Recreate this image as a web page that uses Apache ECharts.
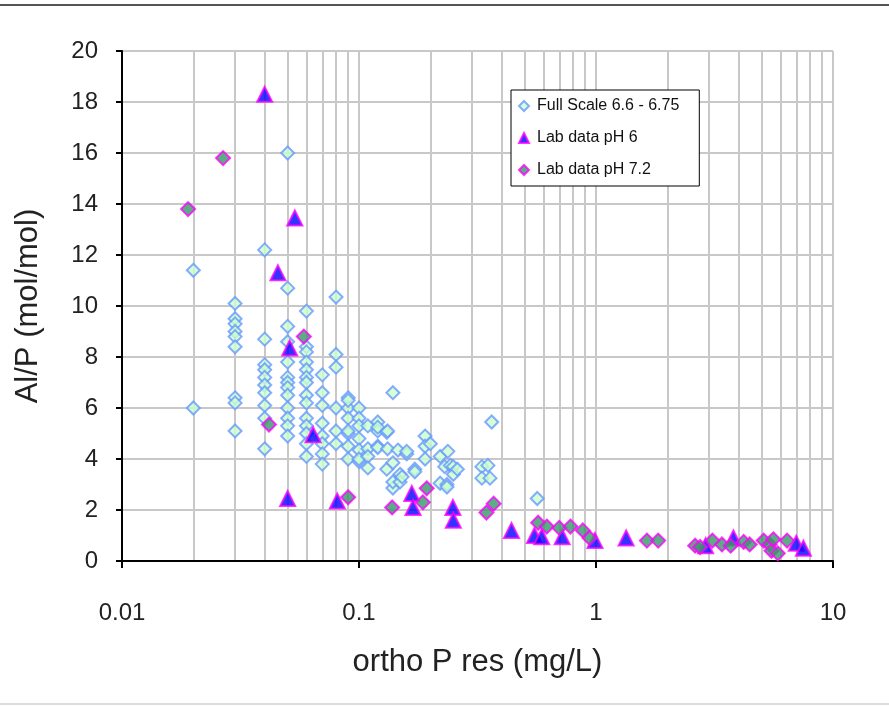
<!DOCTYPE html>
<html>
<head>
    <meta charset="UTF-8">
    <title>Al/P vs ortho P</title>
    <style>
        html, body { margin: 0; padding: 0; background: #fff; }
        #main { width: 889px; height: 707px; }
    </style>
</head>
<body>
<div id="main"></div>
<script src="https://cdn.jsdelivr.net/npm/echarts@6/dist/echarts.min.js"></script>
<script>
    // data: [ortho P res, Al/P]
    var fullScale = [
        [0.02, 11.4], [0.02, 6.0],
        [0.03, 10.1], [0.03, 9.5], [0.03, 9.3], [0.03, 9.0], [0.03, 8.8], [0.03, 8.4], [0.03, 6.4], [0.03, 6.2], [0.03, 5.1],
        [0.04, 12.2], [0.04, 8.7], [0.04, 7.7], [0.04, 7.5], [0.04, 7.2], [0.04, 6.9], [0.04, 6.6], [0.04, 6.1], [0.04, 5.6], [0.04, 4.4],
        [0.05, 16.0], [0.05, 10.7], [0.05, 9.2], [0.05, 8.6], [0.05, 7.8], [0.05, 7.2], [0.05, 7.0], [0.05, 6.8], [0.05, 6.5], [0.05, 6.0], [0.05, 5.6], [0.05, 5.3], [0.05, 4.9],
        [0.06, 9.8], [0.06, 8.4], [0.06, 8.2], [0.06, 7.8], [0.06, 7.5], [0.06, 7.2], [0.06, 7.0], [0.06, 6.5], [0.06, 6.2], [0.06, 5.6], [0.06, 5.3], [0.06, 5.0], [0.06, 4.6], [0.06, 4.1],
        [0.07, 7.3], [0.07, 6.6], [0.07, 6.1], [0.07, 5.4], [0.07, 4.9], [0.07, 4.6], [0.07, 4.2], [0.07, 3.8],
        [0.08, 10.35], [0.08, 8.1], [0.08, 7.6], [0.08, 6.0], [0.08, 5.1], [0.08, 4.6],
        [0.09, 6.4], [0.09, 6.0], [0.09, 5.6], [0.09, 5.0], [0.09, 4.5], [0.09, 4.0], [0.09, 6.3], [0.09, 5.1],
        [0.1, 6.0], [0.1, 5.6], [0.1, 5.3], [0.1, 4.8], [0.1, 4.35], [0.1, 3.9], [0.1, 4.0],
        [0.109, 5.3], [0.109, 4.4], [0.109, 4.1], [0.109, 3.65],
        [0.12, 5.45], [0.12, 5.1], [0.12, 4.5], [0.12, 5.25], [0.12, 4.45],
        [0.131, 5.05], [0.131, 3.6], [0.132, 5.1], [0.132, 4.4],
        [0.139, 6.6], [0.139, 3.85], [0.139, 2.86], [0.139, 3.1],
        [0.146, 4.35], [0.149, 3.4], [0.149, 3.1], [0.152, 3.3],
        [0.159, 4.2], [0.159, 4.3], [0.172, 3.6], [0.172, 3.5],
        [0.19, 4.9], [0.19, 4.5], [0.19, 4.0], [0.2, 4.6],
        [0.22, 4.1], [0.22, 3.05], [0.23, 3.7], [0.235, 3.0], [0.235, 2.9], [0.237, 4.3], [0.243, 3.75],
        [0.25, 3.7], [0.25, 3.4], [0.26, 3.6],
        [0.33, 3.7], [0.33, 3.25], [0.35, 3.75], [0.357, 3.25], [0.363, 5.45],
        [0.565, 2.45]
    ];
    var labPH6 = [
        [0.04, 18.3], [0.0536, 13.45], [0.0455, 11.3], [0.051, 8.35], [0.064, 4.95],
        [0.05, 2.45], [0.081, 2.35], [0.167, 2.65], [0.169, 2.1], [0.249, 2.1], [0.25, 1.6],
        [0.44, 1.2], [0.55, 1.0], [0.59, 0.95], [0.72, 0.95], [0.99, 0.8], [1.34, 0.9],
        [2.9, 0.6], [3.8, 0.9], [7.0, 0.7], [7.5, 0.5]
    ];
    var labPH72 = [
        [0.019, 13.8], [0.0267, 15.8], [0.0585, 8.8], [0.0417, 5.35], [0.09, 2.5],
        [0.138, 2.1], [0.193, 2.85], [0.186, 2.3], [0.345, 1.9], [0.37, 2.25],
        [0.57, 1.5], [0.62, 1.35], [0.70, 1.3], [0.78, 1.35], [0.88, 1.2], [0.94, 0.9],
        [1.64, 0.8], [1.83, 0.8], [2.62, 0.6], [2.75, 0.55], [3.1, 0.8], [3.4, 0.65],
        [3.7, 0.6], [4.2, 0.75], [4.45, 0.65], [5.1, 0.8], [5.4, 0.65], [5.5, 0.4],
        [5.85, 0.3], [5.6, 0.85], [6.4, 0.8]
    ];
    var seriesNames = ['Full Scale 6.6 - 6.75', 'Lab data pH 6', 'Lab data pH 7.2'];
    // minor vertical grid lines (2..9 in each decade)
    var minorGrid = [
        0.02, 0.03, 0.04, 0.05, 0.06, 0.07, 0.08, 0.09,
        0.2, 0.3, 0.4, 0.5, 0.6, 0.7, 0.8, 0.9,
        2, 3, 4, 5, 6, 7, 8, 9
    ];

    var font = 'Liberation Sans, Arial, sans-serif';
    var gridColor = '#c8c8c8';

    var myChart = echarts.init(document.getElementById('main'));
    var option = {
        animation: false,
        backgroundColor: '#fff',
        grid: { left: 122, right: 56, top: 51, bottom: 146 },
        graphic: [
            { type: 'line', shape: { x1: 0, y1: 5, x2: 889, y2: 5 }, style: { stroke: '#555', lineWidth: 2 } },
            { type: 'line', shape: { x1: 0, y1: 704, x2: 889, y2: 704 }, style: { stroke: '#bbb', lineWidth: 1 } }
        ],
        legend: {
            orient: 'vertical',
            left: 511,
            top: 90,
            padding: [8, 20, 8, 7],
            itemGap: 16,
            itemWidth: 10,
            itemHeight: 10,
            backgroundColor: '#fff',
            borderColor: '#000',
            borderWidth: 1,
            z: 10,
            textStyle: { fontSize: 16, color: '#111', fontFamily: font, padding: [0, 0, 0, 3] },
            data: [
                { name: seriesNames[0], icon: 'diamond' },
                { name: seriesNames[1], icon: 'triangle' },
                { name: seriesNames[2], icon: 'diamond' }
            ]
        },
        xAxis: {
            type: 'log',
            logBase: 10,
            min: 0.01,
            max: 10,
            name: 'ortho P res (mg/L)',
            nameLocation: 'middle',
            nameGap: 86,
            nameTextStyle: { fontSize: 31, color: '#222', fontFamily: font },
            axisLine: { onZero: false, lineStyle: { color: '#000', width: 2 } },
            axisTick: { show: true, length: 7, lineStyle: { color: '#000', width: 2 } },
            axisLabel: { fontSize: 24, color: '#222', fontFamily: font, margin: 40 },
            splitLine: { show: true, lineStyle: { color: gridColor, width: 2 } }
        },
        yAxis: {
            type: 'value',
            min: 0,
            max: 20,
            interval: 2,
            name: 'Al/P (mol/mol)',
            nameLocation: 'middle',
            nameGap: 78,
            nameTextStyle: { fontSize: 31, color: '#222', fontFamily: font },
            axisLine: { show: true, lineStyle: { color: '#000', width: 2 } },
            axisTick: { show: true, length: 6, lineStyle: { color: '#000', width: 2 } },
            axisLabel: { fontSize: 24, color: '#222', fontFamily: font, margin: 24 },
            splitLine: { show: true, lineStyle: { color: gridColor, width: 2 } }
        },
        series: [
            {
                name: 'minor',
                type: 'scatter',
                data: [],
                silent: true,
                z: 0,
                markLine: {
                    silent: true,
                    symbol: 'none',
                    label: { show: false },
                    z: 0,
                    lineStyle: { color: gridColor, width: 2, type: 'solid' },
                    data: minorGrid.map(function (v) { return { xAxis: v }; })
                }
            },
            {
                name: seriesNames[0],
                type: 'scatter',
                symbol: 'diamond',
                symbolSize: 13,
                z: 3,
                itemStyle: { color: '#ccffcc', borderColor: '#6699ff', borderWidth: 2 },
                data: fullScale
            },
            {
                name: seriesNames[1],
                type: 'scatter',
                symbol: 'triangle',
                symbolSize: 15,
                z: 4,
                itemStyle: { color: '#0000ff', borderColor: '#ff00ff', borderWidth: 2 },
                data: labPH6
            },
            {
                name: seriesNames[2],
                type: 'scatter',
                symbol: 'diamond',
                symbolSize: 14,
                z: 5,
                itemStyle: { color: '#339966', borderColor: '#ff00ff', borderWidth: 2 },
                data: labPH72
            }
        ]
    };
    myChart.setOption(option);
</script>
</body>
</html>
